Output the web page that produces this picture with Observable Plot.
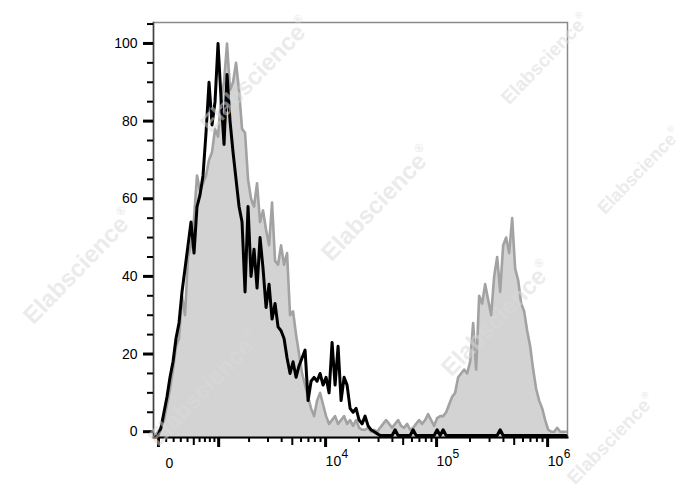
<!DOCTYPE html>
<html>
<head>
<meta charset="utf-8">
<script src="https://cdn.jsdelivr.net/npm/d3@7"></script>
<script src="https://cdn.jsdelivr.net/npm/@observablehq/plot@0.6"></script>
<style>
  body { margin: 0; background: #fff; }
  #wrap { position: relative; width: 688px; height: 490px; overflow: hidden; }
  #wm { position: absolute; left: 0; top: 0; pointer-events: none; }
</style>
</head>
<body>
<div id="wrap"></div>
<script>
// ---- Data ----
// Histogram bins are evenly spaced in the biexponential (asinh) display space.
const BIEX_W = 626;              // asinh width parameter of the display transform
const BIN_T0 = -0.0726;          // first bin centre, display units
const BIN_DT = 0.06224;          // bin width, display units

// Grey filled histogram (control), % of max
const greyCounts = [
  -1, 0, 1, 3, 7, 11, 16, 22, 24, 35, 30, 45, 48, 55, 66, 62, 64, 66, 70, 72,
  78, 76, 86, 90, 100, 88, 90, 95, 88, 78, 77, 65, 60, 58, 64, 54, 57, 52, 48, 59,
  44, 43, 48, 43, 46, 30, 31, 25, 20, 15, 12, 9, 6, 4, 8, 10, 7, 4, 2, 3,
  4, 2, 3, 4, 2, 3, 1.5, 3, 1, 0.5, 0.5, 1, 0, 0.5, 0, 1, 2, 3, 2, 1,
  2, 3, 1.5, 1, 2, 0.5, 1, 2, 3, 2, 3, 4.5, 3, 1.5, 3.5, 4, 4, 5, 7, 9,
  10, 14, 15, 16, 15, 18, 28, 16, 35, 33, 38, 34, 30, 40, 45, 36, 48, 50, 46, 55,
  42, 39, 33, 31, 26, 22, 16, 11, 8, 6, 3, 0.5, 0, 0, 1, 0, 0, 0
];

// Black outlined histogram (stained sample), % of max
const blackCounts = [
  -1.5, -1, 1, 5, 9, 14, 18, 24, 28, 36, 42, 48, 54, 46, 58, 61, 66, 77, 90, 79,
  85, 100, 86, 74, 92, 80, 72, 65, 58, 54, 36, 58, 40, 47, 37, 50, 42, 32, 38, 29,
  33, 27, 26, 24, 19, 15, 18, 14, 17, 19, 21, 8, 13, 14, 13, 15, 12, 14, 10, 23,
  12, 22, 8, 14, 12, 6, 5, 6, 3, 2, 4, 1.5, 0.5, 0, -0.5, -1, -1, -1, -1, -1,
  0.5, -1, -1, -1, -1, -1, 0.5, -1, -1, -1, -1, -1, -1, -1, 0.5, -1, 0.5, -1, -1, -1,
  -1, -1, -1, -1, -1, -1, -1, -1, -1, -1, -1, -1, -1, -1, -1, 0.5, -1, -1, -1, -1,
  -1, -1, -1, -1, -1, -1, -1, -1, -1, -1, -1, -1, -1, -1, -1, -1, -1, -1
];

// Axis ticks (fluorescence intensity) and labels
const xMajorTicks = [0, 1e3, 1e4, 1e5, 1e6];
const xMidTicks = [500, 5e3, 5e4, 5e5];
const xMinorTicks = [100, 200, 300, 400, 600, 700, 800, 900,
  2e3, 3e3, 4e3, 6e3, 7e3, 8e3, 9e3,
  2e4, 3e4, 4e4, 6e4, 7e4, 8e4, 9e4,
  2e5, 3e5, 4e5, 6e5, 7e5, 8e5, 9e5];
const xZeroLabel = [0];
const xPowerLabels = [1e4, 1e5, 1e6];
const xPowerExponents = ["4", "5", "6"];
const yMajorTicks = [0, 20, 40, 60, 80, 100];
const yMinorTicks = [5, 10, 15, 25, 30, 35, 45, 50, 55, 65, 70, 75, 85, 90, 95, 105];
const xDomainRaw = [-65, 1.51e6];
const yDomain = [-1.5, 105.4];

// ---- Build table ----
const biex = v => Math.asinh(v / BIEX_W);
const rows = greyCounts.map((g, i) => ({
  x: BIEX_W * Math.sinh(BIN_T0 + i * BIN_DT),
  grey: g,
  black: blackCounts[i]
}));

const FONT = "'Liberation Sans', Arial, Helvetica, sans-serif";

const chart = Plot.plot({
  width: 688,
  height: 490,
  marginLeft: 153,
  marginRight: 121,
  marginTop: 22,
  marginBottom: 53,
  style: { fontFamily: FONT, background: "white", color: "black", overflow: "visible" },
  x: { type: "linear", transform: biex, domain: xDomainRaw.map(biex), axis: null },
  y: { domain: yDomain, axis: null },
  marks: [
    Plot.frame({ stroke: "#8a8a8a", strokeWidth: 1.5 }),
    Plot.areaY(rows, { x: "x", y1: () => yDomain[0], y2: "grey", fill: "#d3d3d3", curve: "linear" }),
    Plot.lineY(rows, { x: "x", y: "grey", stroke: "#a2a2a2", strokeWidth: 2.6, curve: "linear" }),
    Plot.lineY(rows, { x: "x", y: "black", stroke: "#000", strokeWidth: 3, curve: "linear" }),
    Plot.frame({ anchor: "left", stroke: "#444", strokeWidth: 1.5 }),
    Plot.frame({ anchor: "bottom", stroke: "#000", strokeWidth: 2 }),
    // y axis
    Plot.axisY(yMajorTicks, { tickSize: 10, strokeWidth: 3, tickPadding: 6, fontSize: 14, label: null }),
    Plot.axisY(yMinorTicks, { tickSize: 6, strokeWidth: 2, tickFormat: () => "", label: null }),
    // x axis ticks
    Plot.axisX(xMajorTicks, { tickSize: 10, strokeWidth: 3, tickFormat: () => "", label: null }),
    Plot.axisX(xMidTicks, { tickSize: 8, strokeWidth: 2, tickFormat: () => "", label: null }),
    Plot.axisX(xMinorTicks, { tickSize: 5, strokeWidth: 2, tickFormat: () => "", label: null }),
    // x labels
    Plot.text(xZeroLabel, { x: d => d, text: () => "0", frameAnchor: "bottom", dx: 11, dy: 30, fontSize: 14, fill: "black" }),
    Plot.text(xPowerLabels, { x: d => d, text: () => "10", frameAnchor: "bottom", textAnchor: "start", dx: 0, dy: 28, fontSize: 14, fill: "black" }),
    Plot.text(xPowerLabels, { x: d => d, text: (d, i) => xPowerExponents[i], frameAnchor: "bottom", textAnchor: "start", dx: 16, dy: 20, fontSize: 12, fill: "black" })
  ]
});
document.getElementById("wrap").appendChild(chart);

// ---- Watermark overlay ("Elabscience®"), kept fully inside the picture ----
const wmMarks = [[257, 76, 24], [546, 60, 19], [378, 205, 24], [640, 172, 18],
  [80, 268, 24], [498, 320, 24], [205, 390, 24], [612, 440, 19]];
const ns = "http://www.w3.org/2000/svg";
const wm = document.createElementNS(ns, "svg");
wm.setAttribute("id", "wm");
wm.setAttribute("width", 688);
wm.setAttribute("height", 490);
for (const [cx, cy, fs] of wmMarks) {
  const t = document.createElementNS(ns, "text");
  t.setAttribute("transform", `translate(${cx},${cy}) rotate(-46)`);
  t.setAttribute("text-anchor", "middle");
  t.setAttribute("dominant-baseline", "middle");
  t.setAttribute("font-family", FONT);
  t.setAttribute("font-weight", "bold");
  t.setAttribute("font-size", fs);
  t.setAttribute("fill", "#dadada");
  t.setAttribute("fill-opacity", 0.55);
  t.textContent = "Elabscience";
  const r = document.createElementNS(ns, "tspan");
  r.setAttribute("font-size", fs / 2);
  r.setAttribute("dy", -fs * 0.38);
  r.textContent = "®";
  t.appendChild(r);
  wm.appendChild(t);
}
document.getElementById("wrap").appendChild(wm);
</script>
</body>
</html>
